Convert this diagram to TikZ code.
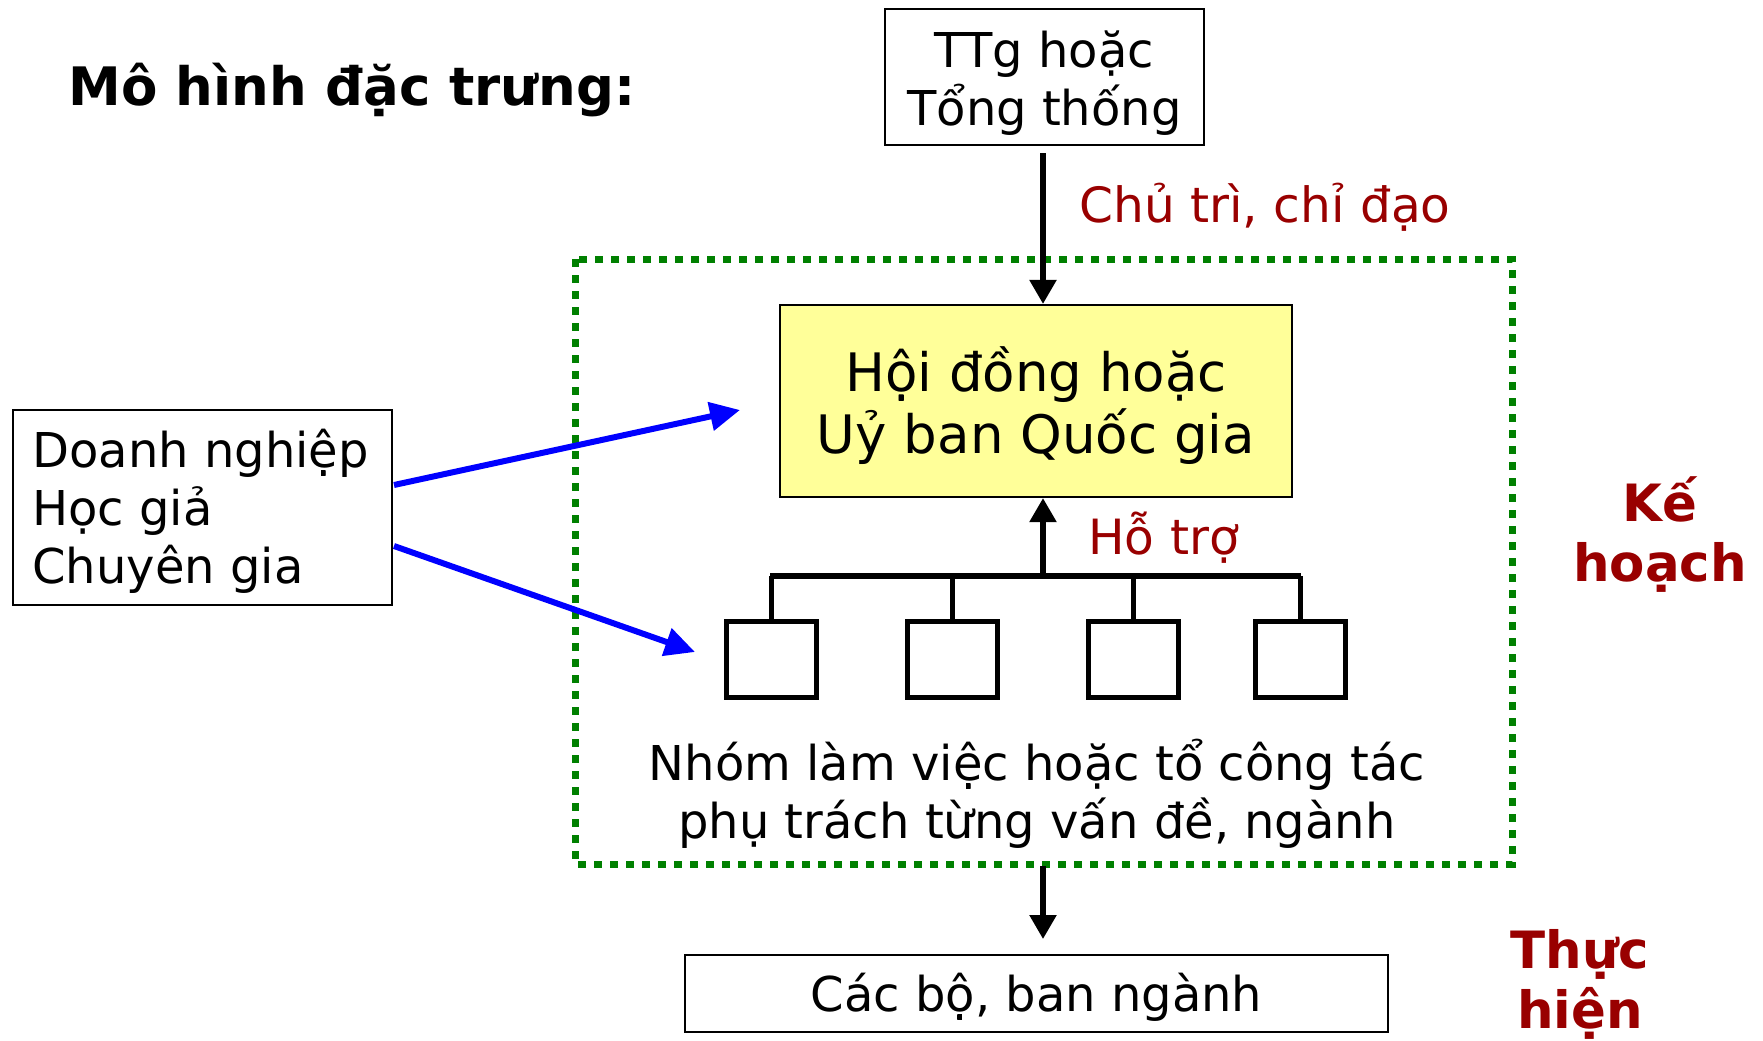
\documentclass[tikz,border=0pt]{standalone}
\usepackage{fontspec}
\setmainfont{DejaVu Sans}
\usetikzlibrary{arrows.meta}
\definecolor{darkred}{HTML}{990000}
\definecolor{framegreen}{HTML}{008000}
\definecolor{notefill}{HTML}{FFFF99}
\begin{document}
\begin{tikzpicture}[x=0.5pt,y=-0.5pt,
  plainbox/.style={draw=black,line width=1.1pt,inner sep=0pt},
  txt/.style={font=\fontsize{24}{29}\selectfont,align=center,inner sep=0pt},
  redlabel/.style={text=darkred,font=\fontsize{24.3}{29}\selectfont,inner sep=0pt},
  sidelabel/.style={text=darkred,font=\fontsize{25.7}{30}\bfseries\selectfont,align=center,inner sep=0pt},
  unit/.style={draw=black,line width=2.5pt,inner sep=0pt,minimum width=45pt,minimum height=38pt},
  flow/.style={line width=2.7pt,-{Triangle[length=12pt,width=13pt]}},
  feed/.style={draw=blue,line width=3pt,-{Triangle[length=15pt,width=14pt]}},
  tie/.style={line width=3.2pt}]
\useasboundingbox (0,0) rectangle (1763,1040);

% heading
\node[anchor=west,inner sep=0pt,font=\fontsize{26.5}{31}\bfseries\selectfont] (title) at (68,90) {Mô hình đặc trưng:};

% top authority
\node[plainbox,minimum width=159.5pt,minimum height=68pt] (top) at (1044.5,77) {};
\node[txt] (toptext) at ([yshift=-3pt]top.center) {TTg hoặc\\Tổng thống};

% planning frame
\draw[framegreen,line width=3.5pt,dash pattern=on 4pt off 4pt] (575,259) rectangle (1512,864);
\coordinate (frameB) at (1043,866);

% council
\node[plainbox,fill=notefill,minimum width=256pt,minimum height=96pt] (council) at (1036,401) {};
\node[font=\fontsize{26.5}{31}\selectfont,align=center,inner sep=0pt] (counciltext)
  at ([yshift=-2.5pt]council.center) {Hội đồng hoặc\\Uỷ ban Quốc gia};

\coordinate (leadS) at (1043,153);
\draw[flow] (leadS) -- (leadS |- council.north);
\node[redlabel,anchor=west] (lead) at (1079,207) {Chủ trì, chỉ đạo};

% working groups
\coordinate (busL) at (770,576);
\coordinate (busR) at (1301,576);
\coordinate (busM) at (1043,576);
\draw[tie] (busL) -- (busR);
\node[unit] (g1) at (771,659) {};
\node[unit] (g2) at (952,659) {};
\node[unit] (g3) at (1133,659) {};
\node[unit] (g4) at (1300,659) {};
\foreach \g in {g1,g2,g3,g4}{\draw[line width=2.5pt] (\g.north) -- (\g.north |- busL);}
\draw[flow] (busM) -- (busM |- council.south);
\node[redlabel,anchor=west] (help) at (1088,538) {Hỗ trợ};

\node[txt] (groups) at (1037,794) {Nhóm làm việc hoặc tổ công tác\\phụ trách từng vấn đề, ngành};

% implementation
\node[plainbox,minimum width=351.5pt,minimum height=38.5pt] (min) at (1036.5,993.5) {};
\node[txt] (mintext) at ([yshift=-2pt]min.center) {Các bộ, ban ngành};
\draw[flow] (frameB) -- (1043,939);

% outside contributors
\node[plainbox,minimum width=189.5pt,minimum height=97.5pt,anchor=north west] (exp) at (12,409) {};
\node[txt,align=left,anchor=west] (exptext) at ([xshift=10pt,yshift=-2pt]exp.west) {Doanh nghiệp\\Học giả\\Chuyên gia};
\draw[feed] (394,485) -- (740,410);
\draw[feed] (394,546) -- (695,652);

% phase labels
\node[sidelabel] (plan) at (1660,535) {Kế\\hoạch};
\node[sidelabel] (impl) at (1580,984) {Thực\\hiện};
\end{tikzpicture}
\end{document}
